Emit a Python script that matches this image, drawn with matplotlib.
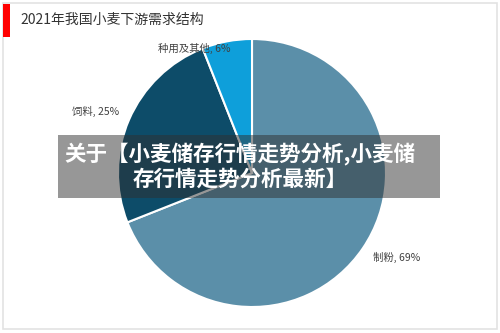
import matplotlib.pyplot as plt
import matplotlib.patches as patches

plt.rcParams['font.family'] = ['Noto Sans CJK SC', 'DejaVu Sans']

# data
categories = ['制粉', '饲料', '种用及其他']
shares = [69, 25, 6]
colors = ['#5b8fa9', '#0d4c69', '#0e9fda']
# label centres in pie-radius units
label_pos = [(1.08, -0.63), (-1.17, 0.46), (-0.43, 0.93)]

title = '2021年我国小麦下游需求结构'
banner = '关于【小麦储存行情走势分析,小麦储\n存行情走势分析最新】'

W, H = 500, 333
fig = plt.figure(figsize=(5, 3.33), dpi=100)
fig.patch.set_facecolor('white')

# outer frame and red title marker
fig.add_artist(patches.Rectangle((3 / W, 4 / H), 494 / W, 326 / H, transform=fig.transFigure,
                                 fill=False, edgecolor='#e3e3e3', linewidth=1.2))
fig.add_artist(patches.Rectangle((3 / W, 1 - 37 / H), 7 / W, 33 / H, transform=fig.transFigure,
                                 facecolor='#ff0000', edgecolor='none'))
fig.text(20 / W, 1 - 20 / H, title, fontsize=10, color='#333333', va='center', ha='left')

# pie
ax = fig.add_axes([118 / W, 26 / H, 268 / W, 268 / H])
wedges, _ = ax.pie(shares, colors=colors, startangle=90, counterclock=False,
                   wedgeprops=dict(edgecolor='white', linewidth=1.5))
ax.set_xlim(-1, 1)
ax.set_ylim(-1, 1)
ax.set_aspect('equal')
ax.axis('off')

for name, s, (lx, ly) in zip(categories, shares, label_pos):
    ax.text(lx, ly, f'{name}, {s}%', fontsize=7.5, color='#404040',
            ha='center', va='center', clip_on=False)

# overlay banner
fig.add_artist(patches.Rectangle((58 / W, 1 - 198 / H), 382 / W, 63 / H, transform=fig.transFigure,
                                 facecolor='#303030', alpha=0.5, edgecolor='none'))
fig.text(240 / W, 1 - 166 / H, banner, fontsize=15.5, fontweight='bold', color='white',
         ha='center', va='center', multialignment='center', linespacing=1.2)

fig.savefig('out.png', dpi=100)
